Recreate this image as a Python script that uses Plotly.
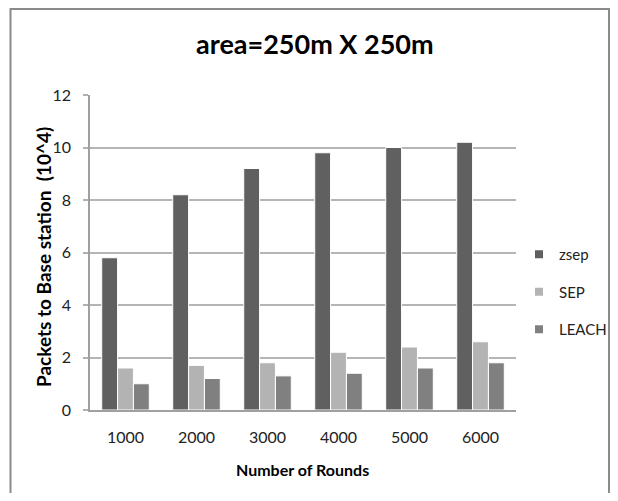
import plotly.graph_objects as go

categories = ["1000", "2000", "3000", "4000", "5000", "6000"]
zsep = [5.8, 8.2, 9.2, 9.8, 10.0, 10.2]
sep = [1.6, 1.7, 1.8, 2.2, 2.4, 2.6]
leach = [1.0, 1.2, 1.3, 1.4, 1.6, 1.8]
y_ticks = [0, 2, 4, 6, 8, 10, 12]

# page has an 8px body margin; figure drawn at (8, 8) and fits the body width
OFF = 8
W, H = 618 - 2 * OFF, 501 - 2 * OFF
L, R, T, B = 90 - OFF, (618 - OFF) - 516, 95 - OFF, (501 - OFF) - 410
pw = W - L - R
ph = H - T - B

FONT = "Lato, 'Open Sans', sans-serif"
series = [("zsep", zsep, "#606060"), ("SEP", sep, "#b3b3b3"), ("LEACH", leach, "#808080")]

fig = go.Figure()
for name, vals, col in series:
    fig.add_trace(go.Bar(x=categories, y=vals, name=name, legendgroup=name, showlegend=False,
                         marker=dict(color=col, line=dict(color="#ffffff", width=1))))
# legend keys (small squares like the original)
for name, vals, col in series:
    fig.add_trace(go.Scatter(x=[None], y=[None], mode="markers", name=name, legendgroup=name,
                             marker=dict(symbol="square", size=8, color=col)))

def px_x(page_px):
    return (page_px - OFF - L) / pw

def px_y(page_py):
    return (H - B - (page_py - OFF)) / ph

fig.update_layout(
    width=W, height=H,
    margin=dict(l=L, r=R, t=T, b=B, pad=0, autoexpand=False),
    paper_bgcolor="white", plot_bgcolor="white",
    barmode="group", bargap=0.33, bargroupgap=0,
    font=dict(family=FONT, color="#222222", size=15),
    showlegend=True,
    legend=dict(x=px_x(519), y=px_y(238), xanchor="left", yanchor="top",
                font=dict(family=FONT, size=15, color="#222222"),
                tracegroupgap=15, traceorder="grouped", itemwidth=30,
                bgcolor="rgba(0,0,0,0)"),
    xaxis=dict(type="category", showgrid=False, showline=True, linecolor="#a0a0a0", linewidth=1.5,
               ticks="", tickfont=dict(size=16, color="#222222"), ticklabelstandoff=12),
    yaxis=dict(range=[0, 12], tickvals=y_ticks, showgrid=True, gridcolor="#b5b5b5", gridwidth=1.5,
               showline=True, linecolor="#a0a0a0", linewidth=1.5, zeroline=False,
               ticks="outside", ticklen=5, tickcolor="#b0b0b0", tickwidth=1.5,
               tickfont=dict(size=16, color="#222222"), ticklabelstandoff=9),
    shapes=[dict(type="rect", xref="paper", yref="paper",
                 x0=px_x(10.5), x1=px_x(OFF + W - 1), y0=px_y(520), y1=px_y(9),
                 line=dict(color="#8a8a8a", width=2), fillcolor="rgba(0,0,0,0)", layer="below")],
    annotations=[
        dict(text="<b>area=250m X 250m</b>", xref="paper", yref="paper",
             x=px_x(315), y=px_y(44), xanchor="center", yanchor="middle",
             showarrow=False, font=dict(family=FONT, size=27, color="#000000")),
        dict(text="<b>Number of Rounds</b>", xref="paper", yref="paper",
             x=px_x(302), y=px_y(469), xanchor="center", yanchor="middle",
             showarrow=False, font=dict(family=FONT, size=16, color="#000000")),
        dict(text="<b>Packets to Base station  (10^4)</b>", xref="paper", yref="paper",
             x=px_x(44), y=px_y(257), xanchor="center", yanchor="middle", textangle=-90,
             showarrow=False, font=dict(family=FONT, size=19, color="#000000")),
    ],
)

fig.write_html("out.html")
